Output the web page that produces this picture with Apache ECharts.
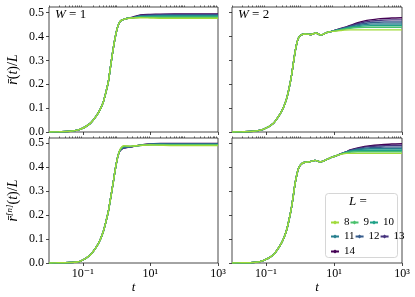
<!DOCTYPE html>
<html><head><meta charset="utf-8">
<script src="https://cdn.jsdelivr.net/npm/echarts@6/dist/echarts.min.js"></script>
<style>html,body{margin:0;padding:0;background:#fff}#c{width:415px;height:297px}</style>
</head><body><div id="c"></div>
<script>
const Ls = ['8','9','10','11','12','13','14'];
const colors = ['#a0da39','#4ac16d','#1fa187','#277f8e','#365c8d','#46337e','#440154'];
const yTicks = [0, 0.1, 0.2, 0.3, 0.4, 0.5];
const xMajorTicks = [0.1, 10, 1000];

// ---- Panel W=1, r(t)/L ----
const tRiseW1 = [0.01,0.02,0.042,0.083,0.163,0.258,0.33,0.404,0.48,0.568,0.64,0.716,0.8,0.897,1.0,1.12,1.25,1.42,1.7,2.0];
const riseW1  = [0.000,0.001,0.003,0.011,0.035,0.070,0.096,0.126,0.165,0.210,0.260,0.308,0.352,0.392,0.424,0.448,0.462,0.469,0.473,0.476];
const tTailW1 = [3,5,10,20,50,100,1000];
const tailW1 = [
  [0.478,0.479,0.478,0.477,0.477,0.477,0.477],
  [0.478,0.481,0.481,0.481,0.481,0.481,0.481],
  [0.479,0.483,0.484,0.485,0.485,0.485,0.485],
  [0.479,0.485,0.487,0.488,0.488,0.488,0.488],
  [0.480,0.487,0.489,0.490,0.491,0.491,0.491],
  [0.480,0.489,0.491,0.492,0.493,0.493,0.493],
  [0.481,0.491,0.493,0.494,0.495,0.495,0.495]
];

// ---- Panel W=2, r(t)/L ----
const tRiseW2 = [0.01,0.02,0.042,0.083,0.163,0.258,0.33,0.404,0.48,0.568,0.64,0.716,0.8,0.897,1.0,1.12,1.25,1.42,1.7,2.0,2.4,2.8,3.3,3.9,4.6,5.4,6.5,8];
const riseW2  = [0.000,0.001,0.003,0.011,0.036,0.075,0.105,0.140,0.185,0.240,0.290,0.335,0.370,0.393,0.403,0.408,0.410,0.411,0.410,0.409,0.411,0.415,0.413,0.407,0.408,0.413,0.418,0.421];
const tTailW2 = [10,15,20,30,50,80,120,200,300,500,1000];
const tailW2 = [
  [0.422,0.425,0.427,0.428,0.428,0.428,0.428,0.428,0.428,0.428,0.428],
  [0.423,0.428,0.431,0.435,0.438,0.439,0.439,0.439,0.439,0.439,0.439],
  [0.424,0.429,0.433,0.438,0.442,0.445,0.446,0.446,0.446,0.446,0.446],
  [0.424,0.430,0.434,0.440,0.446,0.450,0.452,0.453,0.453,0.453,0.453],
  [0.425,0.431,0.436,0.443,0.450,0.455,0.458,0.460,0.461,0.461,0.461],
  [0.425,0.432,0.437,0.445,0.454,0.461,0.465,0.467,0.469,0.470,0.470],
  [0.425,0.433,0.438,0.447,0.458,0.466,0.470,0.474,0.476,0.478,0.479]
];

// ---- Panel W=1, r^[n](t)/L ----
const tRiseN1 = [0.01,0.02,0.042,0.083,0.163,0.258,0.33,0.404,0.48,0.568,0.64,0.716,0.8,0.89,1.0,1.12];
const riseN1  = [0.000,0.001,0.002,0.007,0.032,0.069,0.098,0.131,0.170,0.214,0.256,0.297,0.338,0.380,0.420,0.450];
const tTailN1 = [1.26,1.45,1.65,2.0,2.5,3.2,4,6,10,20,50,100,1000];
const tailN1 = [
  [0.472,0.484,0.488,0.487,0.486,0.487,0.488,0.490,0.491,0.490,0.489,0.489,0.489],
  [0.471,0.482,0.486,0.486,0.485,0.487,0.488,0.490,0.492,0.491,0.491,0.491,0.491],
  [0.470,0.480,0.484,0.485,0.485,0.486,0.488,0.491,0.493,0.493,0.492,0.492,0.492],
  [0.469,0.478,0.482,0.483,0.484,0.486,0.488,0.491,0.493,0.494,0.494,0.494,0.494],
  [0.468,0.477,0.480,0.482,0.483,0.485,0.488,0.491,0.494,0.495,0.495,0.495,0.495],
  [0.467,0.475,0.479,0.481,0.482,0.485,0.488,0.492,0.494,0.496,0.496,0.496,0.496],
  [0.466,0.474,0.478,0.480,0.482,0.485,0.488,0.492,0.495,0.497,0.497,0.497,0.497]
];

// ---- Panel W=2, r^[n](t)/L ----
const tRiseN2 = [0.01,0.02,0.042,0.083,0.163,0.258,0.33,0.404,0.48,0.568,0.64,0.716,0.8,0.897,1.0,1.12,1.25,1.42,1.7,2.0,2.4,2.8,3.3,3.9,4.6,5.4,6.5,8,10];
const riseN2  = [0.000,0.001,0.002,0.010,0.033,0.072,0.102,0.137,0.182,0.235,0.283,0.330,0.365,0.392,0.405,0.413,0.417,0.419,0.420,0.422,0.425,0.427,0.424,0.421,0.423,0.427,0.432,0.438,0.443];
const tTailN2 = [13,17,23,30,50,80,120,200,300,500,1000];
const tailN2 = [
  [0.449,0.453,0.456,0.456,0.456,0.456,0.456,0.456,0.456,0.456,0.456],
  [0.449,0.454,0.459,0.461,0.463,0.463,0.463,0.463,0.463,0.463,0.463],
  [0.449,0.455,0.460,0.464,0.467,0.469,0.469,0.469,0.469,0.469,0.469],
  [0.449,0.455,0.461,0.466,0.471,0.474,0.475,0.475,0.475,0.475,0.475],
  [0.449,0.455,0.462,0.467,0.474,0.478,0.480,0.481,0.482,0.482,0.482],
  [0.449,0.456,0.462,0.469,0.477,0.482,0.485,0.487,0.488,0.489,0.489],
  [0.449,0.456,0.463,0.470,0.479,0.485,0.488,0.491,0.493,0.495,0.496]
];

const FONT = '"Liberation Serif", "DejaVu Serif", serif';
const AX = '#1a1a1a';

// minor tick positions for the log axis (all decades and 2..9 multiples, excluding labelled decades)
const xMinorTicks = [];
for (let e = -2; e <= 2; e++) {
  for (let m = 1; m <= 9; m++) {
    const v = m * Math.pow(10, e);
    if (m === 1 && (e === -1 || e === 1)) continue;
    xMinorTicks.push(v);
  }
}

const panels = [
  {tr: tRiseW1, r: riseW1, tt: tTailW1, tails: tailW1},
  {tr: tRiseW2, r: riseW2, tt: tTailW2, tails: tailW2},
  {tr: tRiseN1, r: riseN1, tt: tTailN1, tails: tailN1},
  {tr: tRiseN2, r: riseN2, tt: tTailN2, tails: tailN2}
];
const grids = [
  {left: 49, top: 7, width: 169, height: 125},
  {left: 232, top: 7, width: 170, height: 125},
  {left: 49, top: 138, width: 169, height: 125},
  {left: 232, top: 138, width: 170, height: 125}
];
const yMax = [0.524, 0.524, 0.52, 0.52];

const supMap = {'-':'\u207B','0':'\u2070','1':'\u00B9','2':'\u00B2','3':'\u00B3'};
function fmtLog(v) {
  const e = String(Math.round(Math.log10(v)));
  return '10' + e.split('').map(c => supMap[c]).join('');
}

const xAxes = [], yAxes = [], series = [];
grids.forEach((g, gi) => {
  const bottom = gi >= 2, left = gi % 2 === 0;
  xAxes.push({
    type: 'log', logBase: 10, min: 0.01, max: 1000, gridIndex: gi,
    axisLine: {show: false}, splitLine: {show: false},
    axisTick: {show: true, customValues: xMajorTicks, length: 3, lineStyle: {color: AX, width: 0.8}},
    axisLabel: {show: bottom, customValues: xMajorTicks, formatter: fmtLog, margin: 5,
      fontFamily: FONT, fontSize: 12, color: '#000'},
    name: bottom ? 't' : '', nameLocation: 'middle', nameGap: 17,
    nameTextStyle: {fontFamily: FONT, fontStyle: 'italic', fontSize: 13, color: '#000'}
  });
  xAxes.push({
    type: 'log', logBase: 10, min: 0.01, max: 1000, gridIndex: gi,
    axisLine: {show: false}, splitLine: {show: false},
    axisTick: {show: true, customValues: xMinorTicks, length: 1.6, lineStyle: {color: AX, width: 0.6}},
    axisLabel: {show: false}
  });
  yAxes.push({
    type: 'value', min: 0, max: yMax[gi], gridIndex: gi,
    axisLine: {show: false}, splitLine: {show: false},
    axisTick: {show: true, customValues: yTicks, length: 3, lineStyle: {color: AX, width: 0.8}},
    axisLabel: {show: left, customValues: yTicks, formatter: v => v.toFixed(1), margin: 5,
      fontFamily: FONT, fontSize: 12, color: '#000'},
    name: left ? (bottom ? '{i|r\u0304}{s|[n]}{n|(}{i|t}{n|)/}{i|L}' : '{i|r\u0304}{n|(}{i|t}{n|)/}{i|L}') : '',
    nameLocation: 'middle', nameGap: 28, nameRotate: 90,
    nameTextStyle: {fontFamily: FONT, fontSize: 14, color: '#000',
      rich: {
        i: {fontFamily: FONT, fontStyle: 'italic', fontSize: 14, lineHeight: 16},
        n: {fontFamily: FONT, fontSize: 14, lineHeight: 16},
        s: {fontFamily: FONT, fontStyle: 'italic', fontSize: 9, verticalAlign: 'top', lineHeight: 16}
      }}
  });
  const p = panels[gi];
  for (let k = Ls.length - 1; k >= 0; k--) {
    const data = [];
    p.tr.forEach((t, i) => data.push([t, p.r[i]]));
    p.tt.forEach((t, i) => data.push([t, p.tails[k][i]]));
    series.push({
      type: 'line', name: Ls[k], xAxisIndex: gi * 2, yAxisIndex: gi,
      data: data, smooth: 0.25, symbol: 'diamond', symbolSize: 5, showSymbol: false,
      lineStyle: {width: 1.4, color: colors[k]}, itemStyle: {color: colors[k]},
      emphasis: {disabled: true}, animation: false
    });
  }
});

const legendBase = {
  orient: 'horizontal', itemWidth: 8, itemHeight: 5, itemGap: 0,
  textStyle: {fontFamily: FONT, fontSize: 11, color: '#000', width: 9}, selectedMode: false, z: 10
};
const legends = [
  Object.assign({}, legendBase, {data: ['8','9','10'], left: 325, top: 212}),
  Object.assign({}, legendBase, {data: ['11','12','13'], left: 325, top: 226}),
  Object.assign({}, legendBase, {data: ['14'], left: 325, top: 241})
];

const chart = echarts.init(document.getElementById('c'), null, {renderer: 'canvas'});
chart.setOption({
  animation: false,
  grid: grids.map(g => Object.assign({show: true, borderColor: AX, borderWidth: 0.8, backgroundColor: 'transparent'}, g)),
  xAxis: xAxes, yAxis: yAxes, series: series, legend: legends,
  graphic: [
    {type: 'text', left: 55, top: 8, z: 10, style: {text: '{i|W} = 1', fontFamily: FONT, fontSize: 13, fill: '#000',
      rich: {i: {fontFamily: FONT, fontStyle: 'italic', fontSize: 13}}}},
    {type: 'text', left: 238, top: 8, z: 10, style: {text: '{i|W} = 2', fontFamily: FONT, fontSize: 13, fill: '#000',
      rich: {i: {fontFamily: FONT, fontStyle: 'italic', fontSize: 13}}}},
    {type: 'rect', z: 5, shape: {x: 325.5, y: 193.5, width: 72, height: 64, r: 3},
      style: {fill: 'rgba(255,255,255,0.85)', stroke: '#cccccc', lineWidth: 0.8}},
    {type: 'text', z: 10, x: 358, y: 202, style: {text: '{i|L} =', fontFamily: FONT, fontSize: 13, fill: '#000',
      align: 'center', verticalAlign: 'middle', rich: {i: {fontFamily: FONT, fontStyle: 'italic', fontSize: 13}}}}
  ]
});
</script></body></html>
